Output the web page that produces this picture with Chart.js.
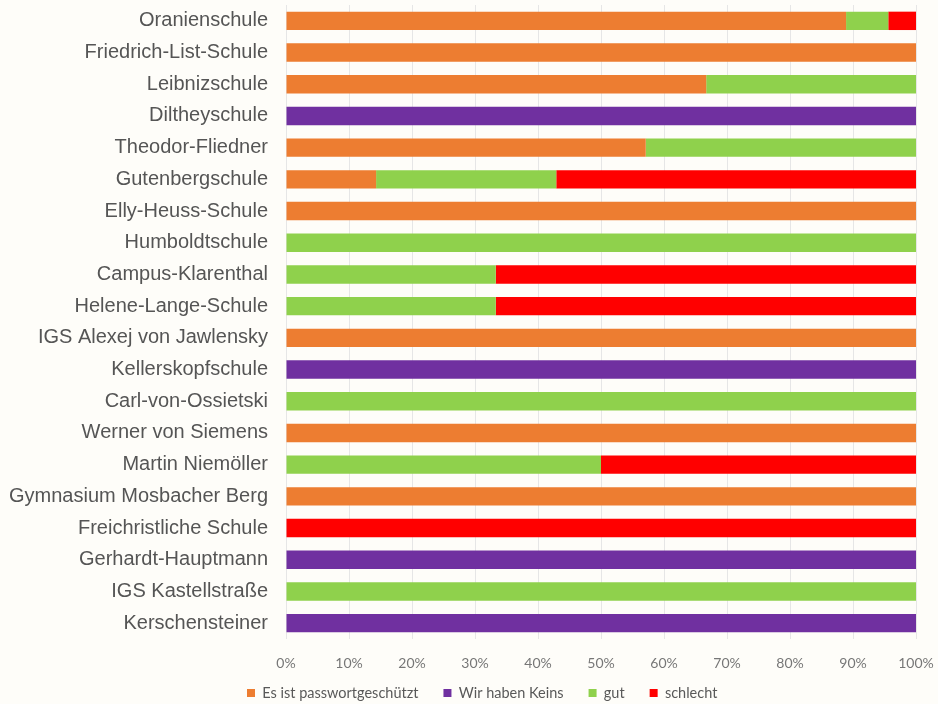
<!DOCTYPE html>
<html><head><meta charset="utf-8">
<script src="https://cdn.jsdelivr.net/npm/chart.js@4/dist/chart.umd.min.js"></script>
<style>html,body{margin:0;padding:0;background:#fefdf9;}#wrap{width:938px;height:704px;}</style>
</head><body><div id="wrap"><canvas id="c" width="938" height="704"></canvas></div>
<script>
const schools = ["Oranienschule","Friedrich-List-Schule","Leibnizschule","Diltheyschule","Theodor-Fliedner","Gutenbergschule","Elly-Heuss-Schule","Humboldtschule","Campus-Klarenthal","Helene-Lange-Schule","IGS Alexej von Jawlensky","Kellerskopfschule","Carl-von-Ossietski","Werner von Siemens","Martin Niemöller","Gymnasium Mosbacher Berg","Freichristliche Schule","Gerhardt-Hauptmann","IGS Kastellstraße","Kerschensteiner"];
const seriesNames = ["Es ist passwortgeschützt","Wir haben Keins","gut","schlecht"];
const passwortgeschuetzt = [88.9,100,66.7,0,57.1,14.3,100,0,0,0,100,0,0,100,0,100,0,0,0,0];
const keins =              [0,0,0,100,0,0,0,0,0,0,0,100,0,0,0,0,0,100,0,100];
const gut =                [6.7,0,33.3,0,42.9,28.6,0,100,33.3,33.3,0,0,100,0,50,0,0,0,100,0];
const schlecht =           [4.4,0,0,0,0,57.1,0,0,66.7,66.7,0,0,0,0,50,0,100,0,0,0];
const xTicks = [0,10,20,30,40,50,60,70,80,90,100];
const colors = ["#ed7d31","#7030a0","#8fd14c","#ff0000"];

const LEG_PAD = 25, LEG_FONT = 14.5;
const legendShift = {
  id:'legendShift',
  afterLayout(chart){
    const lg = chart.legend;
    const w = lg.right - lg.left, h = lg.bottom - lg.top;
    lg.left = 247 - LEG_PAD; lg.right = lg.left + w;
    lg.top = 693 - LEG_PAD - LEG_FONT/2; lg.bottom = lg.top + h;
    chart.scales.x.bottom = 704;
  }
};
function zeroPad(s){ s.paddingTop = 0; s.paddingBottom = 0; s.paddingLeft = 0; s.paddingRight = 0; }

new Chart(document.getElementById('c'), {
  type:'bar',
  data:{
    labels: schools,
    datasets:[passwortgeschuetzt,keins,gut,schlecht].map((d,i)=>({
      label: seriesNames[i], data: d, backgroundColor: colors[i],
      barPercentage: 0.58, categoryPercentage: 1.0, borderWidth:0
    }))
  },
  options:{
    indexAxis:'y', responsive:false, animation:false,
    layout:{padding:{top:5,right:22,left:0,bottom:0}},
    scales:{
      x:{stacked:true,min:0,max:100,
        afterBuildTicks(s){ s.ticks = xTicks.map(v=>({value:v})); },
        afterFit(s){ s.height = 704 - 639 - s.chart.legend.height; zeroPad(s); },
        ticks:{callback:v=>v+'%',color:'#777',padding:16,font:{family:'Lato, Liberation Sans',size:14}},
        grid:{color:'#e6e6e6',drawTicks:false},
        border:{display:false}
      },
      y:{stacked:true,
        afterFit(s){ s.width = 286; zeroPad(s); },
        ticks:{color:'#555',padding:18,font:{family:'Liberation Sans, Arial',size:20}},
        grid:{display:false,drawTicks:false},
        border:{display:false}
      }
    },
    plugins:{
      legend:{position:'bottom',align:'start',
        labels:{boxWidth:8,boxHeight:8,padding:LEG_PAD,color:'#595959',font:{family:'Lato, Liberation Sans',size:LEG_FONT}}},
      tooltip:{enabled:false}
    }
  },
  plugins:[legendShift]
});
</script></body></html>
